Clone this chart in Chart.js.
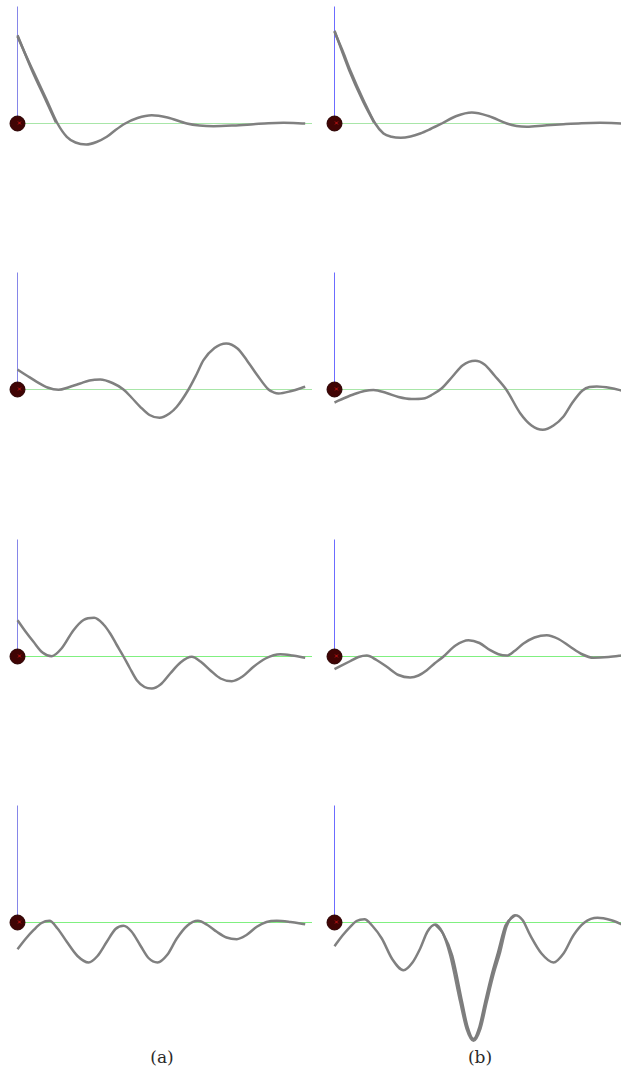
<!DOCTYPE html>
<html>
<head>
<meta charset="utf-8">
<script src="https://cdn.jsdelivr.net/npm/chart.js@4"></script>
<style>
  body { margin: 0; background: #fff; }
  #wrap { position: relative; width: 621px; height: 1075px; overflow: hidden; }
  canvas { position: absolute; }
  .lbl { position: absolute; width: 60px; text-align: center; font-family: "DejaVu Serif", serif; font-size: 17px; line-height: 19px; color: #2a2a2a; }
</style>
</head>
<body>
<div id="wrap">
  <div class="lbl" style="left:132px; top:1048px;">(a)</div>
  <div class="lbl" style="left:450px; top:1048px;">(b)</div>
</div>
<script>
// curve samples, [x, y] with origin at the dot, y up
const curve1a = [[0,87],[8,69],[16,51.7],[29.3,23.3],[40,0],[49.3,-13.3],[58,-19],[68.7,-21],[79,-18.5],[89.3,-13.3],[98,-6.5],[107.7,0],[120,5.5],[134.3,8.3],[150,6],[169.3,0],[182,-2],[196,-2.7],[216,-2],[236,-0.7],[251,0.3],[266,0.7],[287.7,0]];
const curve1b = [[0,91.7],[8,73],[15.7,53.3],[29,23.3],[40.7,0],[49,-10],[57,-13.3],[66.3,-14.3],[76,-13],[85.7,-10],[96,-5.5],[107.3,0],[122,7.5],[137.3,11],[154,7.5],[172.3,0],[182,-2.5],[192.3,-3.3],[210,-2],[229,-0.7],[247,0.3],[265.7,0.7],[290,0]];
const curve2a = [[0,20],[10,13.5],[19.3,7.7],[30,2],[41,-0.3],[52,2.5],[62.7,6],[72,9],[82.7,10],[95,6.5],[106,0],[114,-8],[122.7,-17.3],[132,-25.5],[142,-28.3],[152,-24],[159.3,-17.3],[171,0],[179,15],[186,29.3],[197,41.5],[208.7,46],[220,41],[229.3,29.3],[240,14],[251,0],[256,-2.8],[261,-4],[274,-1.5],[287.7,2.7]];
const curve2b = [[0,-13],[10,-8.5],[20,-4.5],[30,-1.5],[39,-0.5],[52,-3.5],[64,-7.5],[77,-9.5],[89,-9],[98,-5],[107,1],[118,13],[128,24],[140.7,28.7],[150,25],[160,14],[171.7,0],[185.7,-23.7],[197,-36],[208.3,-40.3],[219,-36],[229,-27],[238,-13],[248,-1],[255,2.5],[262.3,3],[276,1.5],[290,-1.8]];
const curve3a = [[0,36.3],[8,25],[16,14.7],[25,4],[34.3,0.3],[44,8],[56,26.3],[66,36.5],[76.7,38.7],[86,32],[92.7,23],[99,12],[106,0],[112,-11],[119.3,-23.7],[127,-30.5],[134.3,-32],[143,-28],[152.7,-17],[163,-6],[174.3,-0.3],[183,-5],[192.7,-13.7],[203,-22],[214.3,-24.7],[225,-20],[236,-10.3],[248,-2],[262.7,2.3],[275,1],[287.7,-1.3]];
const curve3b = [[0,-12.7],[16,-4.5],[24,-0.5],[32.3,1],[42,-3.5],[52.3,-10.3],[64,-18.5],[75.7,-21],[84,-19],[92.3,-13.7],[100,-7],[109,0],[121,11],[134,16.3],[145,13.5],[155.7,6.3],[164,2.3],[172.3,1],[180,5.5],[189,13],[200,19],[212.3,21.3],[224,17.5],[235.7,9.7],[247,2.5],[259,-1.3],[274,-0.5],[290,1.5]];
const curve4a = [[0,-26.7],[8,-16.5],[16,-7.7],[24,-0.5],[32,1.7],[40,-6],[49.3,-19.3],[60,-33.5],[71,-40],[80,-33.5],[89.3,-19.3],[98,-6.5],[106,-3.3],[114,-9],[122.7,-22.7],[131,-35.5],[140,-40],[150,-32],[159.3,-16],[170,-3],[180.3,1.7],[190,-2.5],[199.3,-9.3],[209,-15],[219.3,-16.7],[229,-12.5],[239.3,-4.3],[249,0.5],[259.3,1.7],[273,0.5],[287.7,-1.7]];
const curve4b = [[0,-23.7],[8,-13],[15.7,-4.3],[22,1.5],[30,3.3],[38,-3.5],[47.3,-16],[58,-37],[69,-47.7],[78,-40],[85.7,-26],[93,-9],[100.7,-2],[108,-10],[115.7,-32.7],[125.7,-79.3],[132,-106],[139,-118.3],[146,-106],[152.3,-79.3],[159,-52],[165.7,-29.3],[172,-4],[180.7,7.3],[188,2.5],[195.7,-12.7],[207,-31],[219,-40],[229,-31],[239,-12.7],[250,0],[263,4.7],[276,2.5],[290,-3]];
// overlapping second strokes (thick parts)
const ghost1a = [[0,88.2],[15,52],[28.3,23.3],[38.5,1]];
const ghost1b = [[0,92.7],[14.7,53.3],[28,23.3],[39.5,1]];
const ghost4b = [[100.7,-2],[108.5,-11],[117.7,-33],[127.7,-80],[133,-104],[139,-116.5],[145,-104],[150.5,-80],[157,-53],[163.7,-29.3],[171,-3],[180.7,7.3]];

const axisHeight = 117;
const axisLenA = 295, axisLenB = 290;

const panels = [
  { curve: curve1a, ghost: ghost1a, col: 0, row: 0, hColor: "#a8e6a8" },
  { curve: curve1b, ghost: ghost1b, col: 1, row: 0, hColor: "#a8e6a8" },
  { curve: curve2a, ghost: null,    col: 0, row: 1, hColor: "#a8e6a8" },
  { curve: curve2b, ghost: null,    col: 1, row: 1, hColor: "#a8e6a8" },
  { curve: curve3a, ghost: null,    col: 0, row: 2, hColor: "#80f080" },
  { curve: curve3b, ghost: null,    col: 1, row: 2, hColor: "#80f080" },
  { curve: curve4a, ghost: null,    col: 0, row: 3, hColor: "#80f080" },
  { curve: curve4b, ghost: ghost4b, col: 1, row: 3, hColor: "#80f080" }
];

const toPts = arr => arr.map(p => ({ x: p[0], y: p[1] }));
const rowTops = [0, 266, 533, 799];
const rowOrigins = [123.5, 389.5, 656.5, 922.5];
const wrap = document.getElementById("wrap");

panels.forEach(p => {
  const left = p.col === 0 ? 0 : 312;
  const width = p.col === 0 ? 312 : 309;
  const x0 = p.col === 0 ? 17.5 : 334.5;
  const top = rowTops[p.row];
  const height = 266;
  const y0 = rowOrigins[p.row] - top;

  const cv = document.createElement("canvas");
  cv.width = width; cv.height = height;
  cv.style.left = left + "px"; cv.style.top = top + "px";
  wrap.appendChild(cv);

  const vColor = p.col === 0 ? "#8686e8" : "#6c6cff";
  const hLen = p.col === 0 ? axisLenA : axisLenB;

  // higher order is drawn first (underneath)
  const datasets = [
    { order: 6, data: [{x: 0, y: 0}, {x: hLen, y: 0}], showLine: true, borderColor: p.hColor, backgroundColor: p.hColor, borderWidth: 1, pointRadius: 0, tension: 0 },
    { order: 5, data: [{x: 0, y: 0}, {x: 0, y: axisHeight}], showLine: true, borderColor: vColor, backgroundColor: vColor, borderWidth: 1, pointRadius: 0, tension: 0 },
    { order: 4, data: toPts(p.curve), showLine: true, borderColor: "#808080", borderWidth: 2.5, pointRadius: 0, cubicInterpolationMode: "monotone" }
  ];
  if (p.ghost) {
    datasets.push({ order: 3, data: toPts(p.ghost), showLine: true, borderColor: "#7c7c7c", borderWidth: 2.5, pointRadius: 0, cubicInterpolationMode: "monotone" });
  }
  datasets.push({ order: 1, data: [{x: 0, y: 0}], pointStyle: "circle", pointRadius: 7.5, backgroundColor: "#400404", borderColor: "#280000", borderWidth: 1 });
  datasets.push({ order: 0, data: [{x: 2, y: 0.5}], pointStyle: "crossRot", pointRadius: 2, backgroundColor: "#c81414", borderColor: "#c81414", borderWidth: 1 });

  new Chart(cv, {
    type: "scatter",
    data: { datasets: datasets },
    options: {
      responsive: false,
      animation: false,
      events: [],
      layout: { padding: 0, autoPadding: false },
      plugins: { legend: { display: false }, tooltip: { enabled: false } },
      scales: {
        x: { type: "linear", display: false, min: -x0 + left, max: -x0 + left + width },
        y: { type: "linear", display: false, min: y0 - height, max: y0 }
      }
    }
  });
});
</script>
</body>
</html>
